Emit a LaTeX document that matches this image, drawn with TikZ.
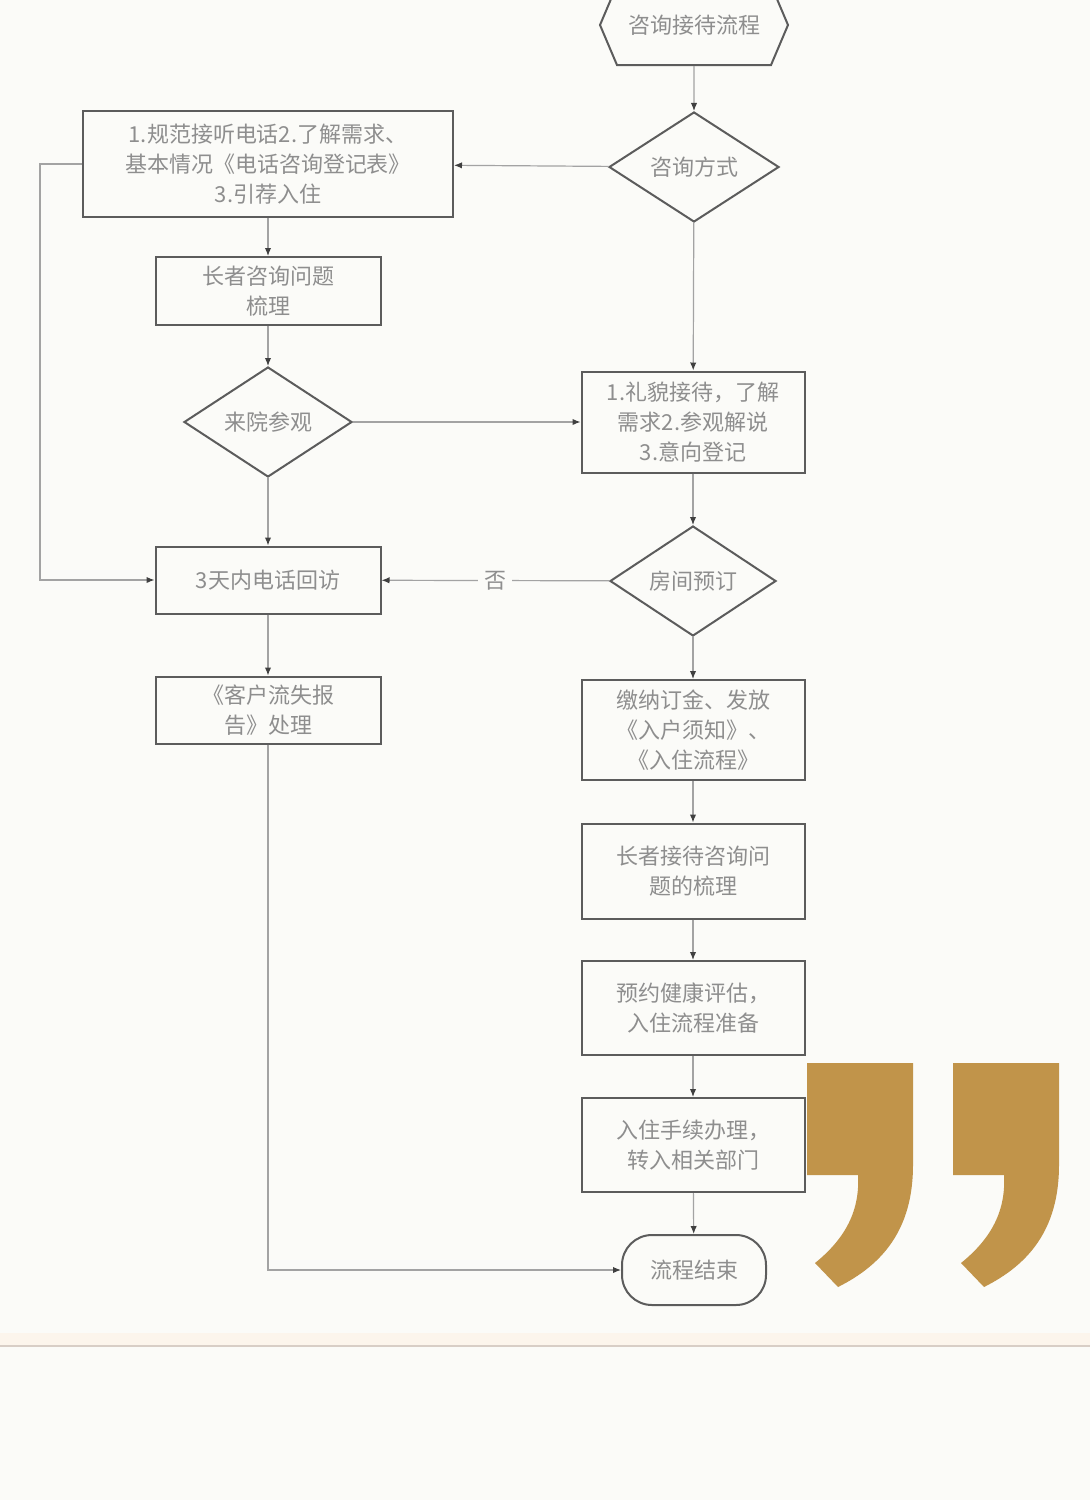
\documentclass[tikz,border=0pt]{standalone}
\usepackage{fontspec}
\newfontfamily\cjk{Noto Sans CJK SC}
\usetikzlibrary{arrows.meta}
\usetikzlibrary{shapes.geometric}
\usetikzlibrary{shapes.symbols}
\definecolor{paper}{HTML}{FBFBF8}
\definecolor{ink}{HTML}{8E8E8E}
\definecolor{frame}{HTML}{5C5C5C}
\definecolor{wire}{HTML}{A3A3A3}
\definecolor{gold}{HTML}{C1944A}
\definecolor{rulecol}{HTML}{D8CEC6}
\definecolor{cream}{HTML}{FCF5EC}
\tikzstyle{every picture}=[>={Latex[length=4pt,width=3.2pt,color=black!75]}]
\tikzstyle{every node}=[font=\cjk\fontsize{11pt}{15pt}\selectfont, text=ink]
\tikzstyle{procbox}=[draw=frame, line width=1pt, rectangle, align=center, inner sep=0pt]
\tikzstyle{choice}=[draw=frame, line width=1pt, diamond, align=center, inner sep=0pt]
\tikzstyle{flow}=[draw=wire, line width=0.6pt, ->]

\begin{document}
\begin{tikzpicture}[x=0.5pt, y=-0.5pt]
\clip (0,0) rectangle (1090,1500);
\fill[paper] (0,0) rectangle (1090,1500);

% page rule
\fill[cream] (0,1333) rectangle (1090,1345);
\draw[rulecol, line width=1pt] (0,1346) -- (1090,1346);

% closing quote marks
\foreach \dx in {0,146} {
  \fill[gold, shift={(\dx,0)}] (807,1063) -- (913,1063) -- (913,1165)
    .. controls (913,1230) and (882,1265) .. (838,1287) -- (815,1263)
    .. controls (846,1238) and (860,1210) .. (858,1175) -- (807,1175) -- cycle;
}

\node[draw=frame, line width=1pt, signal, signal to=west and east, signal pointer angle=134,
      minimum width=94pt, minimum height=40pt, inner sep=0pt] (Start) at (694,25) {咨询接待流程};

\node[choice, minimum width=85pt, minimum height=55pt] (Mode) at (694,167) {咨询方式};

\node[procbox, minimum width=185pt, minimum height=53pt] (PhoneBox) at (268,164)
  {1.规范接听电话2.了解需求、\\基本情况《电话咨询登记表》\\3.引荐入住};
\node[procbox, minimum width=112.5pt, minimum height=34pt] (SortOut) at (268,291)
  {长者咨询问题\\梳理};
\node[choice, minimum width=84pt, minimum height=55pt] (Visit) at (268,422) {来院参观};
\node[procbox, minimum width=111.5pt, minimum height=50.5pt] (Reception) at (693,422)
  {1.礼貌接待，了解\\需求2.参观解说\\3.意向登记};
\node[procbox, minimum width=112.5pt, minimum height=33.5pt] (CallBack) at (268,580)
  {3天内电话回访};
\node[choice, minimum width=83pt, minimum height=55pt] (Booking) at (693,581) {房间预订};
\node[procbox, minimum width=112.5pt, minimum height=33.5pt] (LossReport) at (268,710)
  {《客户流失报\\告》处理};

\node[procbox, minimum width=111.5pt, minimum height=50pt] (Deposit) at (693,730)
  {缴纳订金、发放\\《入户须知》、\\《入住流程》};
\node[procbox, minimum width=111.5pt, minimum height=47.5pt] (ElderSort) at (693,871)
  {长者接待咨询问\\题的梳理};
\node[procbox, minimum width=111.5pt, minimum height=47pt] (HealthEval) at (693,1008)
  {预约健康评估，\\入住流程准备};
\node[procbox, minimum width=111.5pt, minimum height=47pt] (CheckIn) at (693,1145)
  {入住手续办理，\\转入相关部门};
\node[draw=frame, line width=1pt, rectangle, rounded corners=15pt,
      minimum width=72pt, minimum height=35pt] (End) at (694,1270) {流程结束};

\coordinate (LoopCorner) at (40,164);

\draw[flow] (Start) -- (Mode);
\draw[flow] (Mode) -- (PhoneBox);
\draw[flow] (Mode) -- (Reception);
\draw[flow] (PhoneBox) -- (SortOut);
\draw[flow] (SortOut) -- (Visit);
\draw[flow] (Visit) -- (Reception);
\draw[flow] (Visit) -- (CallBack);
\draw[flow] (PhoneBox.west) -- (LoopCorner) |- (CallBack.west);
\draw[flow] (Reception) -- (Booking);
\draw[flow] (Booking) -- (CallBack) node[midway, fill=paper, inner sep=3pt] {否};
\draw[flow] (CallBack) -- (LossReport);
\draw[flow] (LossReport) |- (End);

\draw[flow] (Booking) -- (Deposit);
\draw[flow] (Deposit) -- (ElderSort);
\draw[flow] (ElderSort) -- (HealthEval);
\draw[flow] (HealthEval) -- (CheckIn);
\draw[flow] (CheckIn) -- (End);

\end{tikzpicture}
\end{document}
